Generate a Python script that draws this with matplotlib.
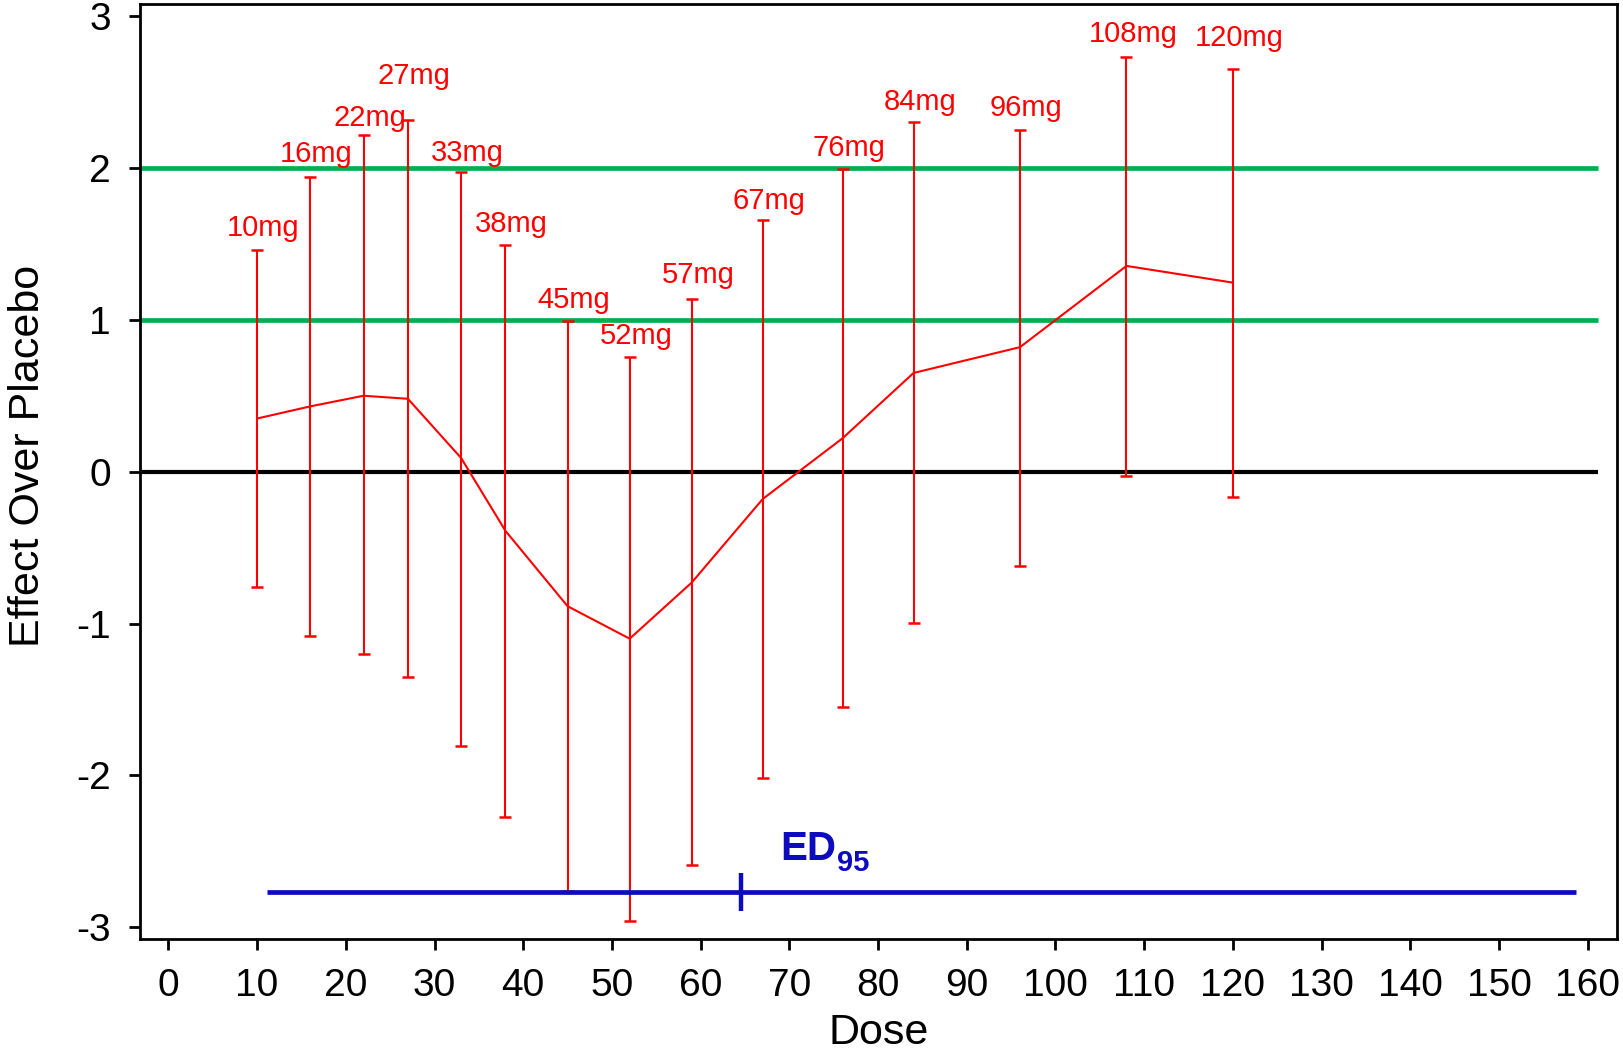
import numpy as np
import matplotlib
matplotlib.use("Agg")
import matplotlib.pyplot as plt

plt.rcParams['font.family'] = ['Liberation Sans', 'DejaVu Sans']
plt.rcParams['axes.unicode_minus'] = False

# dose groups: position on the dose axis, estimate and interval
dose = [10, 16, 22, 27, 33, 38, 45, 52, 59, 67, 76, 84, 96, 108, 120]
dose_labels = ["10mg", "16mg", "22mg", "27mg", "33mg", "38mg", "45mg", "52mg",
               "57mg", "67mg", "76mg", "84mg", "96mg", "108mg", "120mg"]
effect = [0.35, 0.43, 0.50, 0.48, 0.09, -0.39, -0.886, -1.10, -0.73, -0.18,
          0.22, 0.65, 0.82, 1.355, 1.245]
lower = [-0.76, -1.08, -1.20, -1.355, -1.805, -2.275, -2.76, -2.96, -2.59,
         -2.02, -1.55, -0.995, -0.62, -0.03, -0.17]
upper = [1.46, 1.94, 2.22, 2.315, 1.975, 1.49, 0.995, 0.757, 1.135, 1.655,
         1.995, 2.30, 2.25, 2.73, 2.65]

# reference levels
green_levels = [1, 2]
ref_end = 161.2

# ED95 interval
ed_lo, ed_est, ed_hi = 11.1, 64.6, 158.7
ed_y = -2.77

fig = plt.figure(figsize=(16.24, 10.52), dpi=100)
ax = fig.add_axes([0.0862, 0.1071, 0.9095, 0.8891])

xmin = -3.2
ax.hlines(green_levels, xmin, ref_end, color='#00B050', linewidth=3.4, zorder=1)
ax.hlines(0, xmin, ref_end, color='black', linewidth=3.0, zorder=1)

effect = np.array(effect)
err = [effect - np.array(lower), np.array(upper) - effect]
ax.errorbar(dose, effect, yerr=err, color='#FF0000', linewidth=1.5,
            elinewidth=1.5, capsize=4.5, capthick=1.8, zorder=3)

# label nudges in points, the chart places them by hand
nudge = [10, 11, 6, 26, 8, 10, 9, 9, 12, 8, 9, 9, 10, 11, 17]
for d, u, lab, dy in zip(dose, upper, dose_labels, nudge):
    ax.annotate(lab, (d, u), xytext=(4.5, dy), textcoords='offset points',
                ha='center', va='baseline', color='#FF0000', fontsize=21)

ax.hlines(ed_y, ed_lo, ed_hi, color='#0C0CBE', linewidth=3.4, zorder=4)
ax.vlines(ed_est, ed_y - 0.125, ed_y + 0.125, color='#0C0CBE', linewidth=3.2, zorder=4)
ed_txt = ax.text(69.0, -2.555, "ED", color='#0C0CBE', fontsize=29,
                 fontweight='bold', ha='left', va='baseline')
ax.annotate("95", xy=(1, 0), xycoords=ed_txt, xytext=(0.5, -7),
            textcoords='offset points', ha='left', va='bottom',
            color='#0C0CBE', fontsize=21, fontweight='bold')

ax.set_xlim(xmin, 163.3)
ax.set_ylim(-3.08, 3.08)
ax.set_xticks(np.arange(0, 161, 10))
ax.set_yticks(np.arange(-3, 4, 1))
ax.tick_params(axis='both', direction='out', length=8, width=2, labelsize=28)
ax.tick_params(axis='x', pad=13)
ax.tick_params(axis='y', pad=13)
for s in ax.spines.values():
    s.set_linewidth(2)

fig.text(28 / 1624, 1 - 456 / 1052, "Effect Over Placebo", rotation=90,
         ha='center', va='center', fontsize=31)
fig.text(0.541, 1 - 1033 / 1052, "Dose", ha='center', va='center', fontsize=31)

fig.savefig("out.png", dpi=100)
